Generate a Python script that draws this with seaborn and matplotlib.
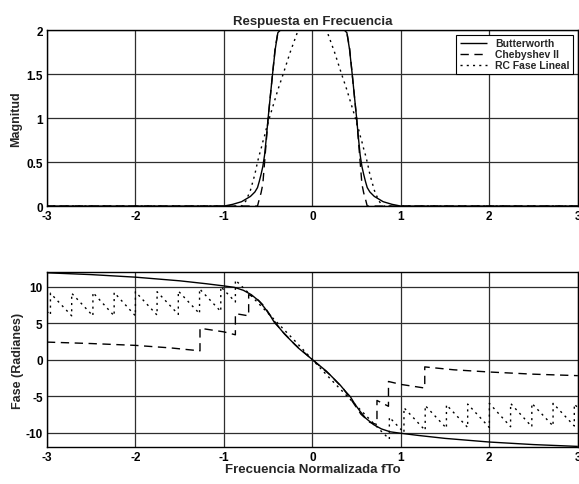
import numpy as np
import pandas as pd
import matplotlib
matplotlib.use("Agg")
import matplotlib.pyplot as plt
import seaborn as sns

# ---------------------------------------------------------
# datos
# ---------------------------------------------------------
# magnitud (mitad izquierda, la derecha es simetrica)
mag_x_half = [-3.0, -1.0, -0.9, -0.8, -0.75, -0.7, -0.65, -0.62, -0.6, -0.58, -0.56,
              -0.54, -0.52, -0.5, -0.48, -0.45, -0.42, -0.39, -0.36, -0.33, -0.25,
              -0.16, -0.1, 0.0]
mag_butter_half = [0.0, 0.0, 0.02, 0.05, 0.08, 0.11, 0.16, 0.21, 0.28, 0.36, 0.45,
                   0.58, 0.78, 1.0, 1.2, 1.5, 1.78, 1.97, 2.0, 2.0, 2.0,
                   2.0, 2.0, 2.0]
mag_cheby_half = [0.0, 0.0, 0.0, 0.0, 0.0, 0.0, 0.0, 0.0, 0.08, 0.15, 0.25,
                  0.5, 0.75, 1.0, 1.2, 1.5, 1.8, 1.97, 2.0, 2.0, 2.0,
                  2.0, 2.0, 2.0]
mag_rc_half = [0.0, 0.0, 0.0, 0.0, 0.06, 0.18, 0.36, 0.5, 0.58, 0.65, 0.73,
               0.8, 0.88, 0.95, 1.02, 1.12, 1.22, 1.32, 1.41, 1.5, 1.75,
               2.0, 2.1, 2.15]

# fase Butterworth
fase_but_x = [-3.0, -2.5, -2.0, -1.5, -1.2, -1.0, -0.88, -0.78, -0.69, -0.6, -0.54,
              -0.48, -0.43, -0.37, -0.315, -0.16, 0.0, 0.16, 0.315, 0.37, 0.43,
              0.48, 0.54, 0.6, 0.69, 0.78, 0.88, 1.0, 1.2, 1.5, 2.0, 2.5, 3.0]
fase_but_y = [11.9, 11.65, 11.3, 10.8, 10.4, 10.1, 9.9, 9.5, 8.9, 8.0, 7.1,
              6.1, 5.1, 4.3, 3.5, 1.6, 0.0, -1.6, -3.5, -4.3, -5.1,
              -6.1, -7.1, -8.0, -8.9, -9.5, -9.9, -10.1, -10.4, -10.8, -11.3, -11.65, -11.9]

# fase Chebyshev II (con saltos)
fase_cheb_x = [-3.0, -2.5, -2.0, -1.6, -1.27, -1.27, -1.0, -0.87, -0.87, -0.72, -0.72,
               -0.65, -0.55, -0.45, -0.35, -0.2, 0.0, 0.2, 0.35, 0.45, 0.55, 0.65,
               0.73, 0.73, 0.86, 0.86, 1.0, 1.27, 1.27, 1.6, 2.0, 2.5, 3.0]
fase_cheb_y = [2.4, 2.2, 1.95, 1.6, 1.2, 4.3, 3.8, 3.4, 6.3, 6.0, 8.9,
               8.6, 7.4, 5.6, 4.0, 2.1, 0.0, -2.1, -4.0, -5.7, -7.5, -8.6,
               -8.9, -5.6, -6.4, -3.0, -3.4, -3.9, -1.0, -1.4, -1.7, -2.0, -2.2]

# fase RC (diente de sierra fuera de la banda)
fase_rc_x = [-3.0, -2.96, -2.96, -2.72, -2.72, -2.48, -2.48, -2.24, -2.24, -2.0, -2.0,
             -1.755, -1.755, -1.515, -1.515, -1.275, -1.275, -1.035, -1.035, -0.87, -0.87,
             -0.76, -0.6, -0.4, -0.2, 0.0, 0.2, 0.4, 0.6, 0.76,
             0.87, 0.87, 1.035, 1.035, 1.275, 1.275, 1.515, 1.515, 1.755, 1.755,
             2.0, 2.0, 2.24, 2.24, 2.48, 2.48, 2.72, 2.72, 2.96, 2.96, 3.0]
fase_rc_y = [6.6, 6.1, 9.1, 6.0, 9.1, 6.0, 9.2, 6.0, 9.2, 6.0, 9.3,
             6.1, 9.3, 6.2, 9.4, 6.3, 9.7, 6.6, 10.0, 7.9, 10.9,
             9.6, 7.6, 5.1, 2.6, 0.0, -2.6, -5.1, -7.6, -9.6,
             -10.9, -7.9, -10.0, -6.6, -9.7, -6.3, -9.4, -6.2, -9.3, -6.1,
             -9.3, -6.0, -9.2, -6.0, -9.2, -6.0, -9.1, -6.0, -9.1, -6.1, -6.6]

xticks = [-3, -2, -1, 0, 1, 2, 3]
mag_yticks = [0, 0.5, 1, 1.5, 2]
mag_yticklabels = ['0', '0.5', '1', '1.5', '2']
fase_yticks = [-10, -5, 0, 5, 10]

# tabla de magnitud completa (simetrica)
mag_x = mag_x_half + [-v for v in mag_x_half[-2::-1]]
mag_df = pd.DataFrame({
    'f': mag_x,
    'Butterworth': mag_butter_half + mag_butter_half[-2::-1],
    'Chebyshev II': mag_cheby_half + mag_cheby_half[-2::-1],
    'RC Fase Lineal': mag_rc_half + mag_rc_half[-2::-1],
})

# ---------------------------------------------------------
# estilo
# ---------------------------------------------------------
sns.set_style("whitegrid", {"grid.color": "#2e2e2e", "axes.edgecolor": "black",
                            "xtick.direction": "in", "ytick.direction": "in"})
plt.rcParams['font.family'] = ['Liberation Sans', 'DejaVu Sans']
plt.rcParams['font.weight'] = 'bold'
plt.rcParams['grid.linewidth'] = 0.9

fig = plt.figure(figsize=(5.79, 4.85), dpi=100)
ax1 = fig.add_axes([0.081, 0.573, 0.917, 0.363])
ax2 = fig.add_axes([0.081, 0.076, 0.917, 0.361])

estilos = {'Butterworth': (0, ()), 'Chebyshev II': (0, (6, 4)), 'RC Fase Lineal': (0, (1.5, 3))}

for nombre in ['Butterworth', 'Chebyshev II', 'RC Fase Lineal']:
    sns.lineplot(data=mag_df, x='f', y=nombre, ax=ax1, color='black', linewidth=1.0,
                 linestyle=estilos[nombre], label=nombre, estimator=None, sort=False)

sns.lineplot(x=fase_but_x, y=fase_but_y, ax=ax2, color='black', linewidth=1.0,
             linestyle=estilos['Butterworth'], estimator=None, sort=False)
sns.lineplot(x=fase_cheb_x, y=fase_cheb_y, ax=ax2, color='black', linewidth=1.0,
             linestyle=estilos['Chebyshev II'], estimator=None, sort=False)
sns.lineplot(x=fase_rc_x, y=fase_rc_y, ax=ax2, color='black', linewidth=1.0,
             linestyle=estilos['RC Fase Lineal'], estimator=None, sort=False)

for ax in (ax1, ax2):
    ax.set_xlim(-3, 3)
    ax.set_xticks(xticks)
    ax.set_xticklabels([str(t) for t in xticks])
    ax.tick_params(labelsize=8.5, length=3, width=0.8, colors='black', pad=3)
    for lbl in ax.get_xticklabels() + ax.get_yticklabels():
        lbl.set_fontweight('bold')
    for s in ax.spines.values():
        s.set_linewidth(1.0)
        s.set_color('black')
    ax.grid(True, color='#2e2e2e', linewidth=0.9)

ax1.set_ylim(0, 2)
ax1.set_yticks(mag_yticks)
ax1.set_yticklabels(mag_yticklabels, fontweight='bold')
ax1.set_xlabel('')
ax1.set_ylabel('Magnitud', fontsize=9, fontweight='bold', labelpad=3)
ax1.set_title('Respuesta en Frecuencia', fontsize=9.5, fontweight='bold', pad=4)

ax2.set_ylim(-12, 12)
ax2.set_yticks(fase_yticks)
ax2.set_yticklabels([str(t) for t in fase_yticks], fontweight='bold')
ax2.set_xlabel('Frecuencia Normalizada fTo', fontsize=9.5, fontweight='bold', labelpad=0)
ax2.set_ylabel('Fase (Radianes)', fontsize=9, fontweight='bold', labelpad=1)

leg = ax1.legend(loc='upper right', fontsize=7.5, frameon=True, fancybox=False,
                 handlelength=2.6, handletextpad=0.8, borderpad=0.3, labelspacing=0.1,
                 borderaxespad=0.5)
leg.get_frame().set_edgecolor('black')
leg.get_frame().set_linewidth(0.8)
leg.get_frame().set_alpha(1)
for t in leg.get_texts():
    t.set_fontweight('bold')

fig.savefig('out.png', dpi=100)
